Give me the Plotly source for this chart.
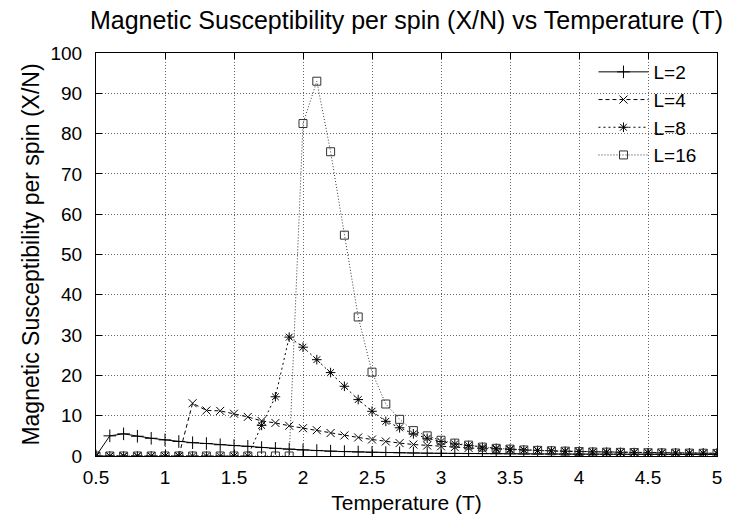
import plotly.graph_objects as go

T = [0.5, 0.6, 0.7, 0.8, 0.9, 1.0, 1.1, 1.2, 1.3, 1.4, 1.5, 1.6, 1.7, 1.8, 1.9,
     2.0, 2.1, 2.2, 2.3, 2.4, 2.5, 2.6, 2.7, 2.8, 2.9, 3.0, 3.1, 3.2, 3.3, 3.4,
     3.5, 3.6, 3.7, 3.8, 3.9, 4.0, 4.1, 4.2, 4.3, 4.4, 4.5, 4.6, 4.7, 4.8, 4.9, 5.0]

chi_L2 = [0.0, 5.0, 5.5, 4.9, 4.4, 4.0, 3.6, 3.3, 3.1, 2.8, 2.6, 2.4, 2.1, 1.9, 1.7,
          1.5, 1.35, 1.2, 1.1, 1.0, 0.9, 0.85, 0.8, 0.75, 0.7, 0.66, 0.63, 0.6, 0.58, 0.56,
          0.54, 0.52, 0.5, 0.49, 0.48, 0.47, 0.46, 0.45, 0.44, 0.43, 0.42, 0.41, 0.4, 0.39, 0.38, 0.37]

chi_L4 = [0.0, 0.0, 0.0, 0.0, 0.0, 0.0, 0.0, 13.1, 11.3, 11.2, 10.5, 9.7, 8.7, 8.2, 7.5,
          6.9, 6.4, 5.7, 5.1, 4.6, 4.1, 3.6, 3.2, 2.85, 2.6, 2.4, 2.2, 2.0, 1.85, 1.7,
          1.55, 1.45, 1.35, 1.25, 1.15, 1.1, 1.0, 0.95, 0.9, 0.85, 0.8, 0.77, 0.74, 0.71, 0.68, 0.65]

chi_L8 = [0.0, 0.0, 0.0, 0.0, 0.0, 0.0, 0.0, 0.0, 0.0, 0.0, 0.0, 0.0, 7.6, 14.7, 29.5,
          27.0, 23.9, 20.7, 17.3, 14.0, 11.1, 8.6, 7.0, 5.5, 4.4, 3.6, 3.0, 2.6, 2.2, 1.9,
          1.7, 1.5, 1.4, 1.3, 1.2, 1.1, 1.0, 0.95, 0.9, 0.85, 0.8, 0.77, 0.74, 0.71, 0.68, 0.65]

chi_L16 = [0.0, 0.0, 0.0, 0.0, 0.0, 0.0, 0.0, 0.0, 0.0, 0.0, 0.0, 0.0, 0.0, 0.0, 0.0,
           82.5, 93.0, 75.5, 54.8, 34.5, 20.8, 12.9, 9.1, 6.3, 5.0, 3.9, 3.2, 2.7, 2.2, 1.9,
           1.7, 1.5, 1.4, 1.3, 1.2, 1.1, 1.0, 0.95, 0.9, 0.85, 0.8, 0.77, 0.74, 0.71, 0.68, 0.65]

x_ticks = [0.5, 1, 1.5, 2, 2.5, 3, 3.5, 4, 4.5, 5]
x_tick_labels = ["0.5", "1", "1.5", "2", "2.5", "3", "3.5", "4", "4.5", "5"]
y_ticks = [0, 10, 20, 30, 40, 50, 60, 70, 80, 90, 100]

FONT = "Liberation Sans, Arial, sans-serif"

series = [
    ("L=2", chi_L2, "solid", "cross-thin-open", "#000000", 9),
    ("L=4", chi_L4, "4px,3px", "x-thin-open", "#000000", 8),
    ("L=8", chi_L8, "2px,3px", "asterisk-open", "#000000", 8),
    ("L=16", chi_L16, "1px,2px", "square-open", "#333333", 8),
]

fig = go.Figure()
for name, vals, dash, sym, col, msize in series:
    fig.add_trace(go.Scatter(
        x=T, y=vals, name=name, mode="lines+markers",
        line=dict(color=col, width=1, dash=dash),
        marker=dict(symbol=sym, size=msize, color=col, line=dict(color=col, width=1)),
    ))

axis_common = dict(
    showline=True, linecolor="black", linewidth=1, mirror="allticks",
    ticks="inside", ticklen=6, tickcolor="black",
    showgrid=True, gridcolor="#666666", griddash="1px,2px", gridwidth=1,
    zeroline=False,
    tickfont=dict(family=FONT, size=19, color="black"),
)

fig.update_xaxes(range=[0.5, 5], tickvals=x_ticks, ticktext=x_tick_labels,
                 ticklabelstandoff=4,
                 title=dict(text="Temperature (T)", font=dict(family=FONT, size=21, color="black"), standoff=8),
                 **axis_common)
fig.update_yaxes(range=[0, 100], tickvals=y_ticks, ticklabelstandoff=9,
                 title=dict(text="Magnetic Susceptibility per spin (X/N)", font=dict(family=FONT, size=23, color="black"), standoff=4),
                 **axis_common)

fig.update_layout(
    width=734, height=523,
    margin=dict(l=96, r=12, t=53, b=67),
    paper_bgcolor="white", plot_bgcolor="white",
    font=dict(family=FONT, size=19, color="black"),
    title=dict(text="Magnetic Susceptibility per spin (X/N) vs Temperature (T)",
               x=0.5, xref="paper", xanchor="center", y=0.962, yanchor="middle",
               font=dict(family=FONT, size=25, color="black")),
    legend=dict(x=0.975, y=1.0, xanchor="right", yanchor="top",
                bgcolor="rgba(255,255,255,0)", borderwidth=0,
                font=dict(family=FONT, size=19, color="black"),
                itemwidth=50, tracegroupgap=0),
    showlegend=True,
)

fig.write_html("out.html")
